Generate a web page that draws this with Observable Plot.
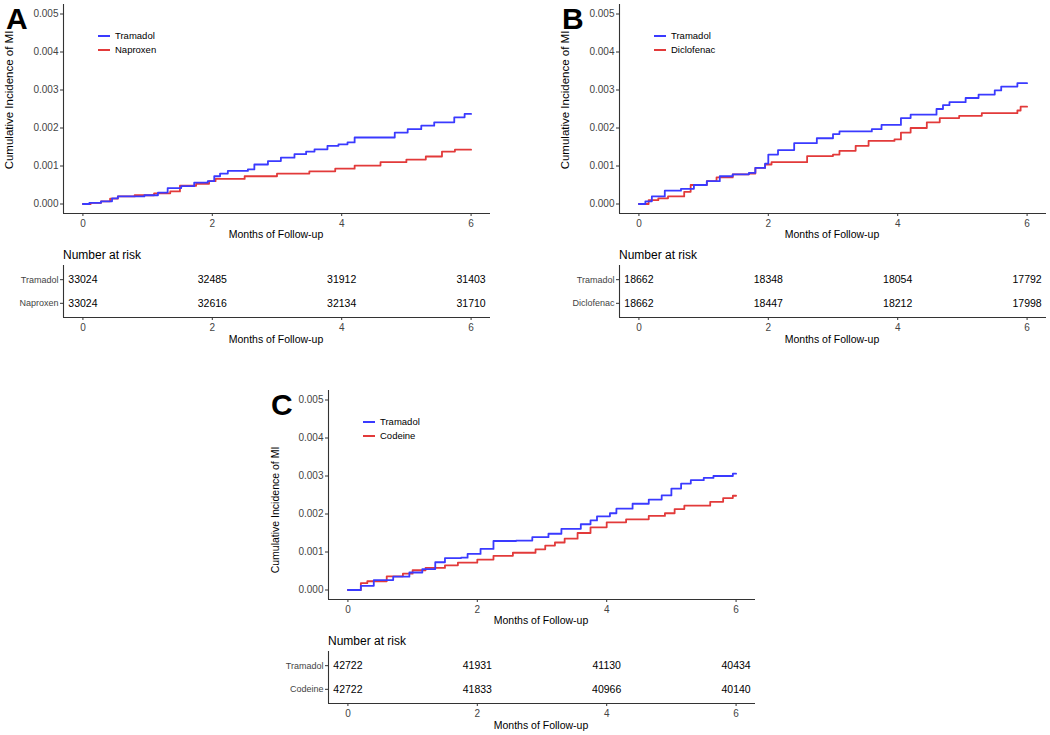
<!DOCTYPE html>
<html><head><meta charset="utf-8">
<script src="https://cdn.jsdelivr.net/npm/d3@7"></script>
<script src="https://cdn.jsdelivr.net/npm/@observablehq/plot@0.6"></script>
<style>
body{margin:0;background:#fff;font-family:"Liberation Sans",Arial,sans-serif;}
#root{position:relative;width:1050px;height:735px;overflow:hidden;background:#fff;}
.plabel{font-size:30px;font-weight:bold;line-height:1;color:#000;}
.nar{font-size:12px;line-height:1;color:#000;white-space:nowrap;}
.xt{font-size:10.5px;line-height:1;color:#000;white-space:nowrap;transform:translateX(-50%);}
.yt{line-height:1;color:#000;white-space:nowrap;transform:translate(-50%,-50%) rotate(-90deg);}
.leg{font-size:9.5px;line-height:14px;color:#000;}
.leg div{display:flex;align-items:center;white-space:nowrap;height:14px;}
.leg span.sw{display:inline-block;width:12px;height:2px;margin-right:5px;}
</style></head>
<body><div id="root"></div>
<script>
// ---------- data ----------
const xTicks = [0, 2, 4, 6];
const yTicks = [0, 0.001, 0.002, 0.003, 0.004, 0.005];
const panelNames = ["A", "B", "C"];
const comparators = ["Naproxen", "Diclofenac", "Codeine"];
const seriesColors = ["#3a3aff", "#e23a3a"];

// Panel A
const tA_tram = [0, 0.1, 0.28, 0.45, 0.54, 0.95, 1.16, 1.31, 1.52, 1.72, 1.93, 2.03, 2.12, 2.24, 2.55, 2.65, 2.86, 3.06, 3.27, 3.45, 3.58, 3.78, 3.95, 4.09, 4.2, 4.61, 4.82, 5.02, 5.23, 5.43, 5.74, 5.9, 6];
const cA_tram = [0, 0.00003, 0.00007, 0.00015, 0.0002, 0.00023, 0.0003, 0.00042, 0.00047, 0.00056, 0.0006, 0.00073, 0.0008, 0.00087, 0.00091, 0.00104, 0.00113, 0.00122, 0.00131, 0.00138, 0.00144, 0.00153, 0.00157, 0.00162, 0.00175, 0.00175, 0.00188, 0.00197, 0.00206, 0.00215, 0.00228, 0.00237, 0.00237];
const tA_comp = [0, 0.12, 0.28, 0.42, 0.54, 0.8, 1.1, 1.35, 1.5, 1.75, 1.95, 2.05, 2.5, 3.0, 3.5, 3.9, 4.2, 4.6, 5.0, 5.3, 5.55, 5.75, 6];
const cA_comp = [0, 0.00003, 0.00007, 0.00014, 0.0002, 0.00023, 0.00028, 0.00033, 0.00048, 0.00053, 0.0006, 0.00066, 0.00073, 0.0008, 0.00086, 0.00093, 0.00101, 0.0011, 0.00117, 0.00125, 0.00138, 0.00143, 0.00143];

// Panel B
const tB_tram = [0, 0.1, 0.2, 0.4, 0.65, 0.85, 1.05, 1.25, 1.45, 1.7, 1.8, 1.95, 2.0, 2.15, 2.4, 2.75, 3.0, 3.1, 3.6, 3.75, 4.05, 4.2, 4.6, 4.7, 4.8, 5.05, 5.25, 5.5, 5.6, 5.85, 6];
const cB_tram = [0, 0.00007, 0.0002, 0.00035, 0.0004, 0.0005, 0.0006, 0.00073, 0.00078, 0.00082, 0.00095, 0.00106, 0.0013, 0.00142, 0.0016, 0.00173, 0.00184, 0.00191, 0.00197, 0.00208, 0.00226, 0.00235, 0.0025, 0.0026, 0.00268, 0.00279, 0.00288, 0.00299, 0.00309, 0.00318, 0.00318];
const tB_comp = [0, 0.15, 0.3, 0.45, 0.7, 0.8, 1.05, 1.2, 1.45, 1.7, 1.8, 1.95, 2.05, 2.6, 3.0, 3.1, 3.35, 3.55, 3.95, 4.05, 4.2, 4.45, 4.65, 4.95, 5.3, 5.85, 5.9, 6];
const cB_comp = [0, 0.0001, 0.00015, 0.0002, 0.00032, 0.0005, 0.0006, 0.0007, 0.00078, 0.0008, 0.00095, 0.00104, 0.0011, 0.00126, 0.0013, 0.0014, 0.00153, 0.00166, 0.0017, 0.00188, 0.002, 0.00215, 0.00226, 0.00232, 0.00239, 0.00246, 0.00256, 0.00256];

// Panel C
const tC_tram = [0, 0.2, 0.4, 0.7, 0.95, 1.15, 1.35, 1.5, 1.75, 1.85, 2.05, 2.25, 2.6, 2.85, 3.1, 3.3, 3.6, 3.75, 3.85, 4.05, 4.15, 4.4, 4.65, 4.85, 5.0, 5.15, 5.3, 5.5, 5.65, 5.95, 6];
const cC_tram = [0, 0.00011, 0.00026, 0.00035, 0.00046, 0.00055, 0.00073, 0.00084, 0.00085, 0.00095, 0.00108, 0.00129, 0.0013, 0.00139, 0.00148, 0.00161, 0.00173, 0.00183, 0.00194, 0.00202, 0.00214, 0.00227, 0.00238, 0.00249, 0.00267, 0.0028, 0.00289, 0.00295, 0.003, 0.00306, 0.00306];
const tC_comp = [0, 0.2, 0.3, 0.6, 0.85, 1.0, 1.2, 1.5, 1.7, 2.0, 2.25, 2.55, 2.9, 3.05, 3.2, 3.35, 3.55, 3.75, 4.0, 4.3, 4.65, 4.9, 5.05, 5.2, 5.6, 5.8, 5.95, 6];
const cC_comp = [0, 0.00018, 0.00023, 0.00036, 0.00043, 0.00052, 0.00058, 0.00065, 0.00072, 0.0008, 0.0009, 0.00098, 0.00107, 0.00117, 0.00125, 0.00135, 0.0015, 0.00165, 0.00178, 0.00186, 0.00195, 0.00202, 0.00213, 0.00222, 0.00232, 0.00242, 0.00248, 0.00248];

// Numbers at risk (at months 0, 2, 4, 6)
const riskA_tram = [33024, 32485, 31912, 31403];
const riskA_comp = [33024, 32616, 32134, 31710];
const riskB_tram = [18662, 18348, 18054, 17792];
const riskB_comp = [18662, 18447, 18212, 17998];
const riskC_tram = [42722, 41931, 41130, 40434];
const riskC_comp = [42722, 41833, 40966, 40140];

// ---------- build ----------
const panels = [
  {ox: 0, oy: 0, tT: tA_tram, cT: cA_tram, tC: tA_comp, cC: cA_comp, rT: riskA_tram, rC: riskA_comp, ytY: 100, ytF: 11.5},
  {ox: 556, oy: 0, tT: tB_tram, cT: cB_tram, tC: tB_comp, cC: cB_comp, rT: riskB_tram, rC: riskB_comp, ytY: 100, ytF: 11.5},
  {ox: 265, oy: 386, tT: tC_tram, cT: cC_tram, tC: tC_comp, cC: cC_comp, rT: riskC_tram, rC: riskC_comp, ytY: 124, ytF: 10.5}
];

const root = document.getElementById("root");
const FONT = "'Liberation Sans', Arial, sans-serif";
const xDomain = [-0.3, 6.3];
const yDomain = [-0.00025, 0.00525];

function place(el, left, top) {
  el.style.position = "absolute";
  el.style.left = left + "px";
  el.style.top = top + "px";
  root.appendChild(el);
  return el;
}
function div(cls, text, left, top) {
  const d = document.createElement("div");
  d.className = cls;
  d.textContent = text;
  return place(d, left, top);
}

panels.forEach((p, i) => {
  const comp = comparators[i];
  const names = ["Tramadol", comp];
  const series = [
    p.tT.map((t, j) => ({t, v: p.cT[j], s: names[0]})),
    p.tC.map((t, j) => ({t, v: p.cC[j], s: names[1]}))
  ];

  const curve = Plot.plot({
    width: 490, height: 245,
    marginLeft: 63, marginRight: 0, marginTop: 4, marginBottom: 32,
    style: {fontFamily: FONT, background: "transparent", color: "#4d4d4d"},
    x: {domain: xDomain},
    y: {domain: yDomain},
    marks: [
      Plot.axisX({ticks: xTicks, tickFormat: d3.format("d"), tickSize: 3, tickPadding: 3, label: null, fontSize: 10, stroke: "#333", fill: "#444"}),
      Plot.axisY({ticks: yTicks, tickFormat: d3.format(".3f"), tickSize: 3, tickPadding: 2, label: null, fontSize: 10, stroke: "#333", fill: "#444"}),
      Plot.ruleX([xDomain[0]], {stroke: "#333", strokeWidth: 1.1}),
      Plot.ruleY([yDomain[0]], {stroke: "#333", strokeWidth: 1.1}),
      Plot.line(series[1], {x: "t", y: "v", stroke: seriesColors[1], strokeWidth: 1.8, curve: "step-after"}),
      Plot.line(series[0], {x: "t", y: "v", stroke: seriesColors[0], strokeWidth: 1.8, curve: "step-after"})
    ]
  });
  place(curve, p.ox, p.oy);

  const riskData = [];
  xTicks.forEach((t, j) => {
    riskData.push({t, row: 2, n: p.rT[j]});
    riskData.push({t, row: 1, n: p.rC[j]});
  });
  const risk = Plot.plot({
    width: 490, height: 100,
    marginLeft: 63, marginRight: 0, marginTop: 15, marginBottom: 33,
    style: {fontFamily: FONT, background: "transparent", color: "#4d4d4d", overflow: "visible"},
    x: {domain: xDomain},
    y: {domain: [0.4, 2.6]},
    marks: [
      Plot.axisX({ticks: xTicks, tickFormat: d3.format("d"), tickSize: 3, tickPadding: 3, label: null, fontSize: 10, stroke: "#333", fill: "#444"}),
      Plot.axisY({ticks: [1, 2], tickFormat: d => d === 2 ? names[0] : names[1], tickSize: 3, tickPadding: 2, label: null, fontSize: 9, stroke: "#333", fill: "#444"}),
      Plot.ruleX([xDomain[0]], {stroke: "#333", strokeWidth: 1.1}),
      Plot.ruleY([0.4], {stroke: "#333", strokeWidth: 1.1}),
      Plot.text(riskData, {x: "t", y: "row", text: d => String(d.n), fontSize: 10.5, fill: "#000"})
    ]
  });
  place(risk, p.ox, p.oy + 250);

  // texts
  div("plabel", panelNames[i], p.ox + 6, p.oy + 4);
  const yt = div("yt", "Cumulative Incidence of MI", p.ox + 10, p.oy + p.ytY);
  yt.style.fontSize = p.ytF + "px";
  div("xt", "Months of Follow-up", p.ox + 276, p.oy + 229);
  div("nar", "Number at risk", p.ox + 63, p.oy + 249);
  div("xt", "Months of Follow-up", p.ox + 276, p.oy + 334);

  const leg = document.createElement("div");
  leg.className = "leg";
  names.forEach((n, k) => {
    const row = document.createElement("div");
    const sw = document.createElement("span");
    sw.className = "sw";
    sw.style.background = seriesColors[k];
    row.appendChild(sw);
    row.appendChild(document.createTextNode(n));
    leg.appendChild(row);
  });
  place(leg, p.ox + 98, p.oy + 29);
});
</script>
</body></html>
